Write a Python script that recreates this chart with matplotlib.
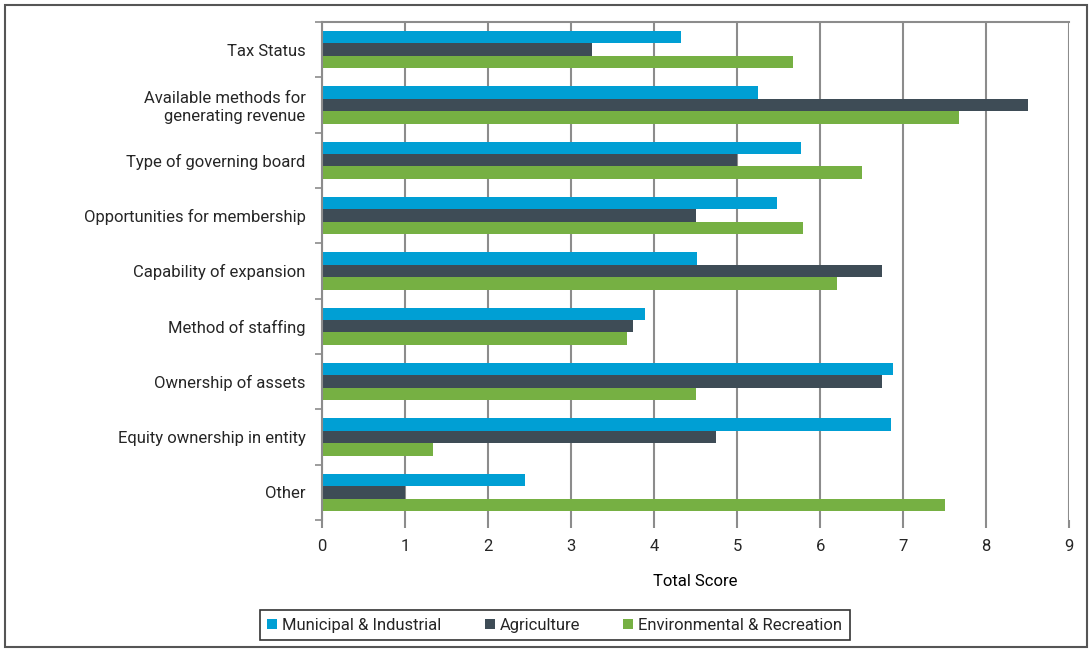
import matplotlib as mpl
import matplotlib.pyplot as plt
import numpy as np
from matplotlib.patches import Rectangle

mpl.rcParams["font.family"] = ["Roboto", "DejaVu Sans"]
mpl.rcParams["text.color"] = "#262626"
mpl.rcParams["xtick.labelcolor"] = "#262626"
mpl.rcParams["ytick.labelcolor"] = "#262626"

categories = [
    "Tax Status",
    "Available methods for\ngenerating revenue",
    "Type of governing board",
    "Opportunities for membership",
    "Capability of expansion",
    "Method of staffing",
    "Ownership of assets",
    "Equity ownership in entity",
    "Other",
]
municipal = [4.33, 5.25, 5.77, 5.48, 4.52, 3.89, 6.88, 6.86, 2.44]
agriculture = [3.25, 8.5, 5.0, 4.5, 6.75, 3.75, 6.75, 4.75, 1.0]
environmental = [5.67, 7.67, 6.5, 5.8, 6.2, 3.67, 4.5, 1.33, 7.5]
series_names = ["Municipal & Industrial", "Agriculture", "Environmental & Recreation"]
colors = ["#009fd4", "#3e4c56", "#76b043"]

fig = plt.figure(figsize=(10.92, 6.52), dpi=100)
ax = fig.add_axes([0.295, 0.2025, 0.684, 0.764])

n = len(categories)
y = np.arange(n)
h = 0.225
for i, (vals, name, c) in enumerate(zip([municipal, agriculture, environmental], series_names, colors)):
    ax.barh(y + (i - 1) * h, vals, height=h, color=c, label=name, zorder=3)

ax.set_ylim(n - 0.5, -0.5)
ax.set_xlim(0, 9)
ax.set_yticks(y)
ax.set_yticklabels(categories, fontsize=12)
ax.set_yticks(np.arange(n + 1) - 0.5, minor=True)
ax.tick_params(axis="y", which="major", length=0, pad=12)
ax.tick_params(axis="y", which="minor", length=5, color="#8c8c8c", width=1.2)
ax.set_xticks(np.arange(0, 10))
ax.tick_params(axis="x", length=6, color="#8c8c8c", width=1.5, labelsize=12, pad=8)
ax.grid(axis="x", color="#8c8c8c", linewidth=1.5, zorder=0)

for s in ["bottom", "right"]:
    ax.spines[s].set_visible(False)
ax.spines["left"].set_color("#8c8c8c")
ax.spines["left"].set_linewidth(1.5)
ax.spines["top"].set_color("#8c8c8c")
ax.spines["top"].set_linewidth(1.5)
ax.spines["left"].set_zorder(4)

ax.set_xlabel("Total Score", fontsize=12, labelpad=14)

leg = fig.legend(
    loc="center",
    bbox_to_anchor=(0.508, 0.041),
    ncol=3,
    fontsize=12,
    frameon=True,
    fancybox=False,
    handlelength=0.6,
    handleheight=0.6,
    handletextpad=0.3,
    columnspacing=2.6,
    borderpad=0.45,
)
leg.get_frame().set_edgecolor("black")
leg.get_frame().set_linewidth(1.2)

fig.patches.append(
    Rectangle((0.005, 0.007), 0.99, 0.986, transform=fig.transFigure,
              fill=False, edgecolor="#555555", linewidth=1.5)
)

plt.savefig("out.png", dpi=100, facecolor="w")
